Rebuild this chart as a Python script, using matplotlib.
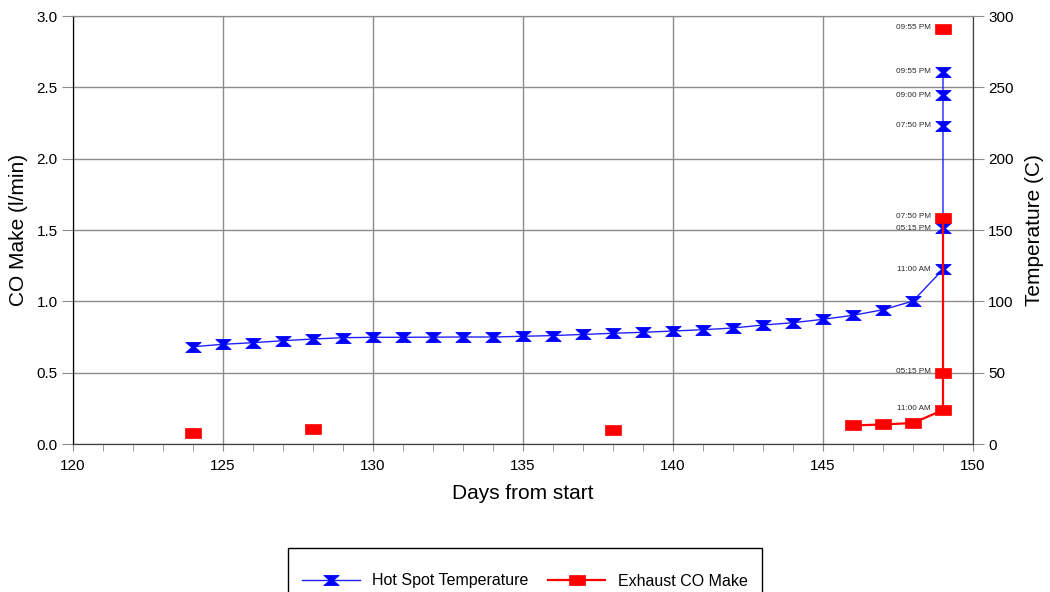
import numpy as np
import matplotlib
matplotlib.use("Agg")
import matplotlib.pyplot as plt
from matplotlib.path import Path
from matplotlib.patches import Rectangle

plt.rcParams['font.family'] = ['Liberation Sans', 'DejaVu Sans']

nan = np.nan
# Day index for each reading (day 149 has several readings)
days = [124, 125, 126, 127, 128, 129, 130, 131, 132, 133, 134, 135, 136, 137,
        138, 139, 140, 141, 142, 143, 144, 145, 146, 147, 148,
        149, 149, 149, 149, 149]
times = [''] * 25 + ['11:00 AM', '05:15 PM', '07:50 PM', '09:00 PM', '09:55 PM']

hot_spot_temp = [68.2, 69.9, 71.0, 72.4, 73.6, 74.5, 74.8, 74.8, 74.9, 75.0,
                 75.0, 75.5, 76.0, 76.8, 77.6, 78.3, 79.2, 80.1, 81.3, 83.4,
                 85.0, 87.4, 90.2, 94.1, 100.2,
                 122.4, 151.2, 223.1, 244.6, 261.0]

exhaust_co = [0.077, nan, nan, nan, 0.105, nan, nan, nan, nan, nan,
              nan, nan, nan, nan, 0.100, nan, nan, nan, nan, nan,
              nan, nan, 0.130, 0.137, 0.147,
              0.238, 0.495, 1.582, nan, 2.907]

# custom markers
hourglass = Path([(-1, 0.66), (1, 0.66), (0.25, 0), (1, -0.66), (-1, -0.66),
                  (-0.25, 0), (-1, 0.66)],
                 [Path.MOVETO] + [Path.LINETO] * 5 + [Path.CLOSEPOLY])
rect = Path([(-1, -0.68), (1, -0.68), (1, 0.68), (-1, 0.68), (-1, -0.68)],
            [Path.MOVETO] + [Path.LINETO] * 3 + [Path.CLOSEPOLY])

fig = plt.figure(figsize=(10.5, 5.92), dpi=100)
ax = fig.add_axes([73/1050, 148/592, 900/1050, 428/592])
ax2 = ax.twinx()

ax.set_xlim(120, 150)
ax.set_ylim(0, 3.0)
ax2.set_ylim(0, 300)

ax.set_xticks(np.arange(120, 151, 5))
ax.set_xticks(np.arange(120, 151, 1), minor=True)
ax.set_yticks(np.arange(0, 3.01, 0.5))
ax.set_yticklabels([f"{v:.1f}" for v in np.arange(0, 3.01, 0.5)])
ax2.set_yticks(np.arange(0, 301, 50))

ax.grid(True, which='major', color='#8c8c8c', lw=1.0)
ax.set_axisbelow(True)

tick_col = '#8c8c8c'
ax.tick_params(axis='x', which='both', direction='out', length=5, color=tick_col,
               labelsize=11, pad=6)
ax.tick_params(axis='y', direction='out', length=8, color=tick_col, labelsize=11, pad=3)
ax2.tick_params(axis='y', direction='out', length=8, color=tick_col, labelsize=11, pad=3)

for a in (ax, ax2):
    a.spines['top'].set_color('#8c8c8c')
    a.spines['left'].set_color('black')
    a.spines['right'].set_color('#404040')
    a.spines['bottom'].set_color('#404040')

ax.set_xlabel('Days from start', fontsize=15, labelpad=8)
ax.set_ylabel('CO Make (l/min)', fontsize=15, labelpad=6)
ax2.set_ylabel('Temperature (C)', fontsize=15, labelpad=8)

# Hot spot temperature on right axis
h1, = ax2.plot(days, hot_spot_temp, color='#2020ff', lw=1.0, marker=hourglass,
               markersize=11, markerfacecolor='#0000ff', markeredgecolor='#0000ff',
               markeredgewidth=0.6, label='Hot Spot Temperature', zorder=3)
# Exhaust CO make (left axis values, drawn on the 100x right scale)
co_scaled = [v * 100 if not np.isnan(v) else nan for v in exhaust_co]
h2, = ax2.plot(days, co_scaled, color='#ff0000', lw=1.6, marker=rect,
               markersize=11, markerfacecolor='#ff0000', markeredgecolor='#ff0000',
               markeredgewidth=0.5, label='Exhaust CO Make', zorder=4)

# time annotations
for d, t, tv, cv in zip(days, times, hot_spot_temp, exhaust_co):
    if not t:
        continue
    ax2.annotate(t, (d, tv), xytext=(-9, 0), textcoords='offset points',
                 ha='right', va='center', fontsize=5.9, color='#2a2a2a', zorder=5)
    if not np.isnan(cv):
        ax.annotate(t, (d, cv), xytext=(-9, 1), textcoords='offset points',
                    ha='right', va='center', fontsize=5.9, color='#2a2a2a', zorder=5)

# legend box
fig.patches.append(Rectangle((288/1050, -0.05), 474/1050, 0.05 + 44/592,
                             transform=fig.transFigure, fill=False,
                             edgecolor='black', lw=1.0))
fig.legend(handles=[h1, h2], loc='center', bbox_to_anchor=(525/1050, 11/592),
           ncol=2, frameon=False, fontsize=11.5, handlelength=3.6,
           handletextpad=0.8, columnspacing=1.2, borderpad=0)

fig.savefig('out.png', dpi=100)
